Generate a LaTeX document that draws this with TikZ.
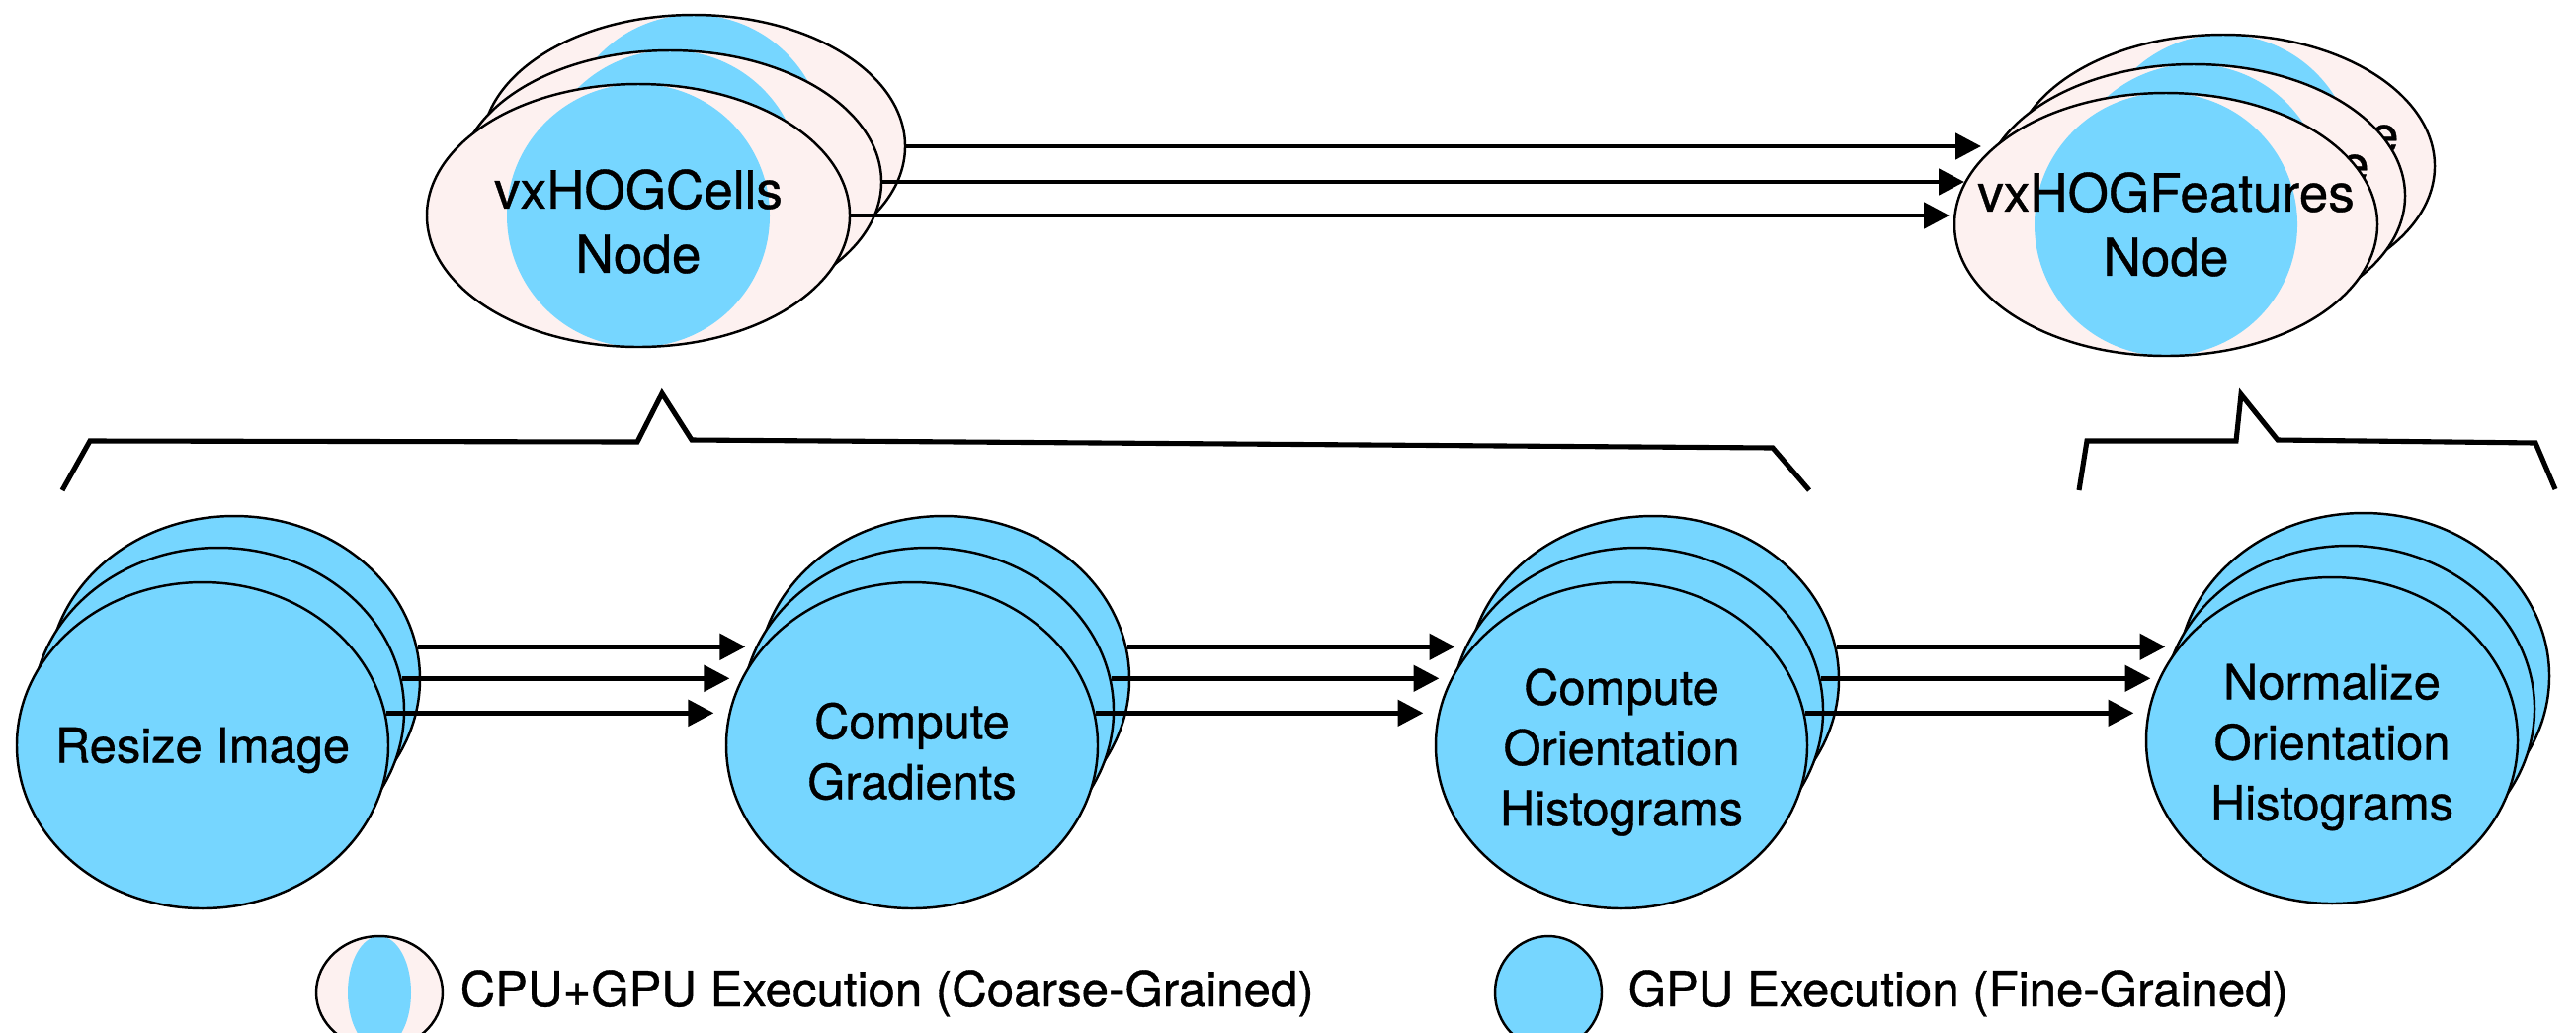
\documentclass[tikz,border=0pt]{standalone}
\usepackage{fontspec}
\setmainfont{TeX Gyre Heros}[FakeBold=0.7]
\usetikzlibrary{shapes.geometric,arrows.meta,calc}
\definecolor{gpublue}{HTML}{76D6FF}
\definecolor{cpupink}{HTML}{FDF1F0}

\begin{document}
\begin{tikzpicture}[x=1cm,y=-1cm,
  rim/.style={draw=black,line width=0.7pt},
  gpunode/.style={ellipse,rim,fill=gpublue,inner sep=0pt,
    minimum width=3.76cm,minimum height=3.30cm},
  gpulabel/.style={align=center,inner sep=0pt,
    font=\fontsize{13.9pt}{17.4pt}\selectfont},
  cgnode/.style={ellipse,rim,fill=cpupink,inner sep=0pt,
    minimum width=4.28cm,minimum height=2.66cm,
    path picture={\fill[gpublue] (path picture bounding box.center) circle[radius=1.33cm];}},
  cglabel/.style={align=center,inner sep=0pt,
    font=\fontsize{15.1pt}{18.5pt}\selectfont},
  flow/.style={line width=1.4pt,-{Triangle[length=0.26cm,width=0.26cm]}},
  groupline/.style={line width=1.45pt,line join=miter},
  legendtext/.style={anchor=base west,inner sep=0pt,
    font=\fontsize{14pt}{17pt}\selectfont}
]
\useasboundingbox (0,0) rectangle (26.07,10.44);
\clip (0,0) rectangle (26.07,10.44);
\fill[white] (0,0) rectangle (26.07,10.44);

% ---- coarse-grained OpenVX nodes (CPU+GPU) ----
\node[cgnode] (hc3) at (7.02,1.48) {};
\node[cgnode] (hc2) at (6.78,1.84) {};
\node[cgnode] (hc1) at (6.46,2.18) {};
\node[cglabel] (hcl) at ($(hc1)+(0,0.06)$) {vxHOGCells\\Node};

\node[cgnode] (hf3) at (22.50,1.68) {};
\node[cglabel] (hfl3) at (hf3) {vxHOGFeature\\Node};
\node[cgnode] (hf2) at (22.20,1.98) {};
\node[cglabel] (hfl2) at (hf2) {vxHOGFeature\\Node};
\node[cgnode] (hf1) at (21.92,2.27) {};
\node[cglabel] (hfl1) at (hf1) {vxHOGFeatures\\Node};

% arrow tips in front of the features node
\coordinate (t3) at (20.05,1.48);
\coordinate (t2) at (19.88,1.84);
\coordinate (t1) at (19.73,2.18);
\draw[flow] (hc3.east) -- (t3);
\draw[flow] (hc2.east) -- (t2);
\draw[flow] (hc1.east) -- (t1);

% ---- grouping brackets ----
\draw[groupline] (0.63,4.96) -- (0.91,4.46) -- (6.45,4.47) -- (6.70,3.98)
  -- (7.00,4.45) -- (17.94,4.53) -- (18.31,4.96);
\draw[groupline] (21.04,4.96) -- (21.12,4.46) -- (22.63,4.46) -- (22.68,3.99)
  -- (23.05,4.45) -- (25.66,4.48) -- (25.86,4.95);

% ---- fine-grained GPU kernels ----
\node[gpunode] (rs3) at (2.37,6.87) {};
\node[gpunode] (rs2) at (2.21,7.19) {};
\node[gpunode] (rs1) at (2.05,7.54) {};
\node[gpulabel] (rsl) at ($(rs1)+(0,0.05)$) {Resize Image};

\node[gpunode] (cg3) at (9.55,6.87) {};
\node[gpunode] (cg2) at (9.39,7.19) {};
\node[gpunode] (cg1) at (9.23,7.54) {};
\node[gpulabel] (cgl) at ($(cg1)+(0,0.06)$) {Compute\\Gradients};

\node[gpunode] (oh3) at (16.73,6.87) {};
\node[gpunode] (oh2) at (16.57,7.19) {};
\node[gpunode] (oh1) at (16.41,7.54) {};
\node[gpulabel] (ohl) at ($(oh1)+(0,0.07)$) {Compute\\Orientation\\Histograms};

\node[gpunode] (nh3) at (23.92,6.84) {};
\node[gpunode] (nh2) at (23.77,7.17) {};
\node[gpunode] (nh1) at (23.60,7.49) {};
\node[gpulabel] (nhl) at ($(nh1)+(0,0.07)$) {Normalize\\Orientation\\Histograms};

\foreach \a/\b in {rs/cg,cg/oh,oh/nh}{
  \foreach \i in {1,2,3}{
    \draw[flow,shorten >=0.15cm] (\a\i.10) -- (\a\i.10 -| \b\i.170);
  }
}

% ---- legend ----
\node[ellipse,rim,fill=cpupink,inner sep=0pt,minimum width=1.28cm,minimum height=1.14cm,
  path picture={\fill[gpublue] (path picture bounding box.center) ellipse[x radius=0.32cm,y radius=0.57cm];}]
  (keycg) at (3.84,10.04) {};
\node[legendtext] (keycgtext) at (4.65,10.18) {CPU+GPU Execution (Coarse-Grained)};
\node[ellipse,rim,fill=gpublue,inner sep=0pt,minimum width=1.08cm,minimum height=1.14cm]
  (keyfg) at (15.67,10.04) {};
\node[legendtext] (keyfgtext) at (16.47,10.18) {GPU Execution (Fine-Grained)};
\end{tikzpicture}
\end{document}
